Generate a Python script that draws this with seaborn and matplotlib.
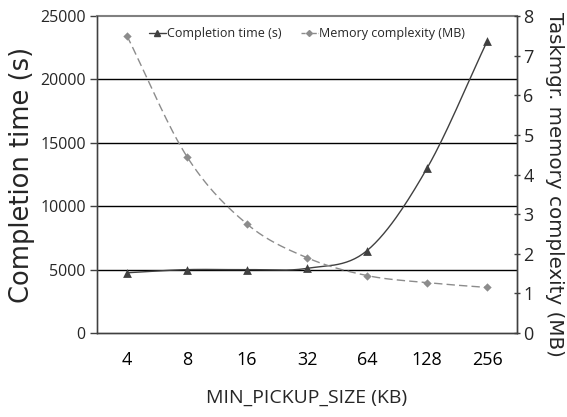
import numpy as np
import pandas as pd
import matplotlib
matplotlib.use("Agg")
import matplotlib.pyplot as plt
import seaborn as sns
from matplotlib.lines import Line2D

sizes = ["4", "8", "16", "32", "64", "128", "256"]
completion_time = [4750, 5000, 5000, 5100, 6500, 13000, 23000]
memory_mb = [7.5, 4.45, 2.75, 1.9, 1.45, 1.27, 1.15]

sns.set_theme(style="white")
plt.rcParams["font.family"] = ["Open Sans", "DejaVu Sans"]

def smooth(xs, ys, n=30):
    # Catmull-Rom style smoothing of the drawn path
    xs = np.asarray(xs, float); ys = np.asarray(ys, float)
    px = np.concatenate([[2*xs[0]-xs[1]], xs, [2*xs[-1]-xs[-2]]])
    py = np.concatenate([[2*ys[0]-ys[1]], ys, [2*ys[-1]-ys[-2]]])
    ox, oy = [], []
    t = np.linspace(0, 1, n)
    for i in range(1, len(px)-2):
        for arr, out in ((px, ox), (py, oy)):
            p0, p1, p2, p3 = arr[i-1], arr[i], arr[i+1], arr[i+2]
            c = 0.5*((2*p1) + (-p0+p2)*t + (2*p0-5*p1+4*p2-p3)*t**2 + (-p0+3*p1-3*p2+p3)*t**3)
            out.extend(c if i == 1 else c[1:])
    return np.array(ox), np.array(oy)

fig = plt.figure(figsize=(5.67, 4.17), dpi=100)
ax = fig.add_axes([0.171, 0.2014, 0.741, 0.7602])
ax2 = ax.twinx()

xi = np.arange(len(sizes))
df = pd.DataFrame({"x": xi, "time": completion_time, "mem": memory_mb})

c1 = "#404040"
c2 = "#8c8c8c"

sx, sy = smooth(xi, completion_time)
ax.plot(sx, sy, color=c1, lw=1.0, zorder=3)
sns.scatterplot(data=df, x="x", y="time", ax=ax, marker="^", s=40, color=c1,
                edgecolor=c1, linewidth=0, zorder=4, legend=False)

mx, my = smooth(xi, memory_mb)
ax2.plot(mx, my, color=c2, lw=1.0, ls=(0, (6, 3)), zorder=3)
sns.scatterplot(data=df, x="x", y="mem", ax=ax2, marker="D", s=18, color=c2,
                edgecolor=c2, linewidth=0, zorder=4, legend=False)

ax.set_xlim(-0.5, len(sizes)-0.5)
ax.set_ylim(0, 25000)
ax.set_yticks(range(0, 25001, 5000))
ax2.set_ylim(0, 8)
ax2.set_yticks(range(0, 9))

ax.set_xticks(xi)
ax.set_xticklabels(sizes)
ax.set_xticks(np.arange(-0.5, len(sizes), 1), minor=True)
ax.tick_params(axis="x", which="major", length=0, labelsize=13, pad=13, colors="black")
ax.tick_params(axis="x", which="minor", length=5, width=1, direction="out", color="#404040")
ax.tick_params(axis="y", length=5, width=1, direction="out", labelsize=11.5, color="#404040", pad=3)
ax2.tick_params(axis="y", length=5, width=1, direction="inout", labelsize=13, color="#404040", pad=2)

for v in range(5000, 25000, 5000):
    ax.axhline(v, color="black", lw=1.0, zorder=1)

for a in (ax, ax2):
    for s in a.spines.values():
        s.set_color("#404040")
        s.set_linewidth(1.0)
ax.spines["top"].set_color("#808080")
ax.spines["top"].set_linewidth(1.5)
ax2.spines["top"].set_visible(False)
ax.spines["left"].set_color("#707070")

ax.set_xlabel("MIN_PICKUP_SIZE (KB)", fontsize=14, labelpad=14)
ax.set_ylabel("Completion time (s)", fontsize=18.5, family="DejaVu Sans", labelpad=4)
ax2.set_ylabel("Taskmgr. memory complexity (MB)", fontsize=14.3, family="DejaVu Sans",
               rotation=270, labelpad=16)
ax2.yaxis.set_label_coords(1.112, 0.47)
ax.grid(False); ax2.grid(False)

handles = [Line2D([], [], color=c1, lw=1.0, marker="^", markersize=5),
           Line2D([], [], color=c2, lw=1.0, ls=(0, (3, 1)), marker="D", markersize=3)]
ax.legend(handles, ["Completion time (s)", "Memory complexity (MB)"], loc="upper center",
          bbox_to_anchor=(0.5, 1.0), ncol=2, frameon=False, fontsize=9,
          handlelength=1.4, handletextpad=0.1, columnspacing=1.5)

fig.savefig("out.png", dpi=100)
